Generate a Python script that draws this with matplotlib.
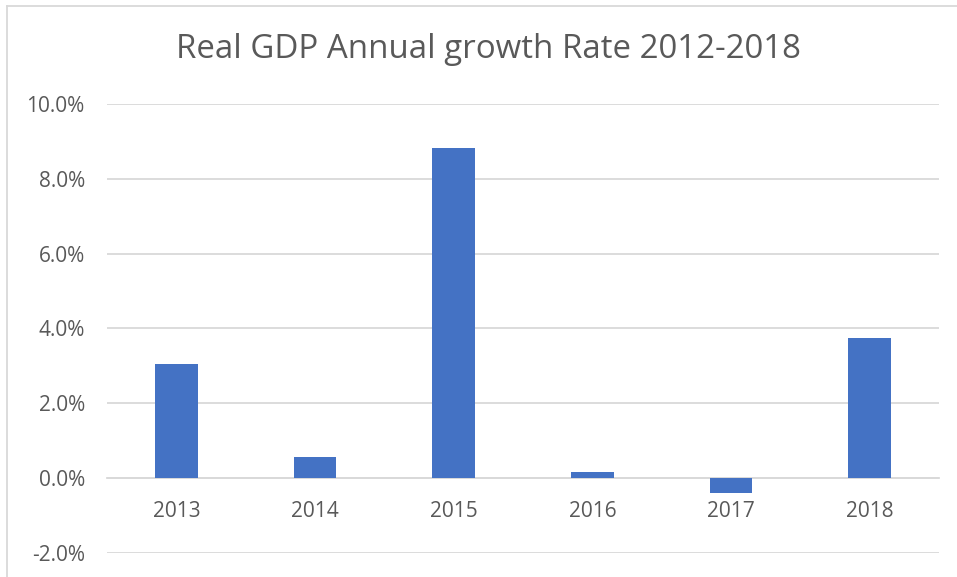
import numpy as np
import matplotlib
matplotlib.use('Agg')
import matplotlib.pyplot as plt
from matplotlib.lines import Line2D
from matplotlib.ticker import FuncFormatter

plt.rcParams['font.family'] = ['Open Sans', 'DejaVu Sans']

years = ['2013', '2014', '2015', '2016', '2017', '2018']
growth = [3.05, 0.55, 8.81, 0.17, -0.41, 3.73]

bar_color = '#4472C4'
grid_color = '#D9D9D9'
text_color = '#595959'

W, H = 957, 577
fig = plt.figure(figsize=(W / 100, H / 100), dpi=100)
ax = fig.add_axes([107 / W, 1 - 552.7 / H, (939 - 107) / W, (552.7 - 104) / H])

x = np.arange(len(years))
ax.bar(x, growth, width=0.31, color=bar_color, zorder=3)

ax.set_xlim(-0.5, len(years) - 0.5)
ax.set_ylim(-2, 10)
ax.set_yticks(np.arange(-2, 10.1, 2))
ax.yaxis.set_major_formatter(FuncFormatter(lambda v, p: f'{v:.1f}%'))
ax.grid(axis='y', color=grid_color, linewidth=1.3, zorder=0)

ax.set_xticks(x)
ax.set_xticklabels(years)
for side in ['top', 'right', 'left']:
    ax.spines[side].set_visible(False)
ax.spines['bottom'].set_position(('data', 0))
ax.spines['bottom'].set_color(grid_color)
ax.spines['bottom'].set_linewidth(1.3)
ax.spines['bottom'].set_zorder(1)

ax.tick_params(axis='x', length=0, pad=16.5, labelsize=15, labelcolor=text_color)
ax.tick_params(axis='y', length=0, pad=16, labelsize=15, labelcolor=text_color)

fig.text(489 / W, 1 - 49 / H, 'Real GDP Annual growth Rate 2012-2018',
         ha='center', va='center', fontsize=23.8, color=text_color)

# chart border (top and left edges visible in the screenshot)
fig.add_artist(Line2D([7 / W, 1], [1 - 6 / H, 1 - 6 / H], color=grid_color, linewidth=1.3))
fig.add_artist(Line2D([7 / W, 7 / W], [0, 1 - 6 / H], color=grid_color, linewidth=1.3))

fig.savefig('out.png', dpi=100)
